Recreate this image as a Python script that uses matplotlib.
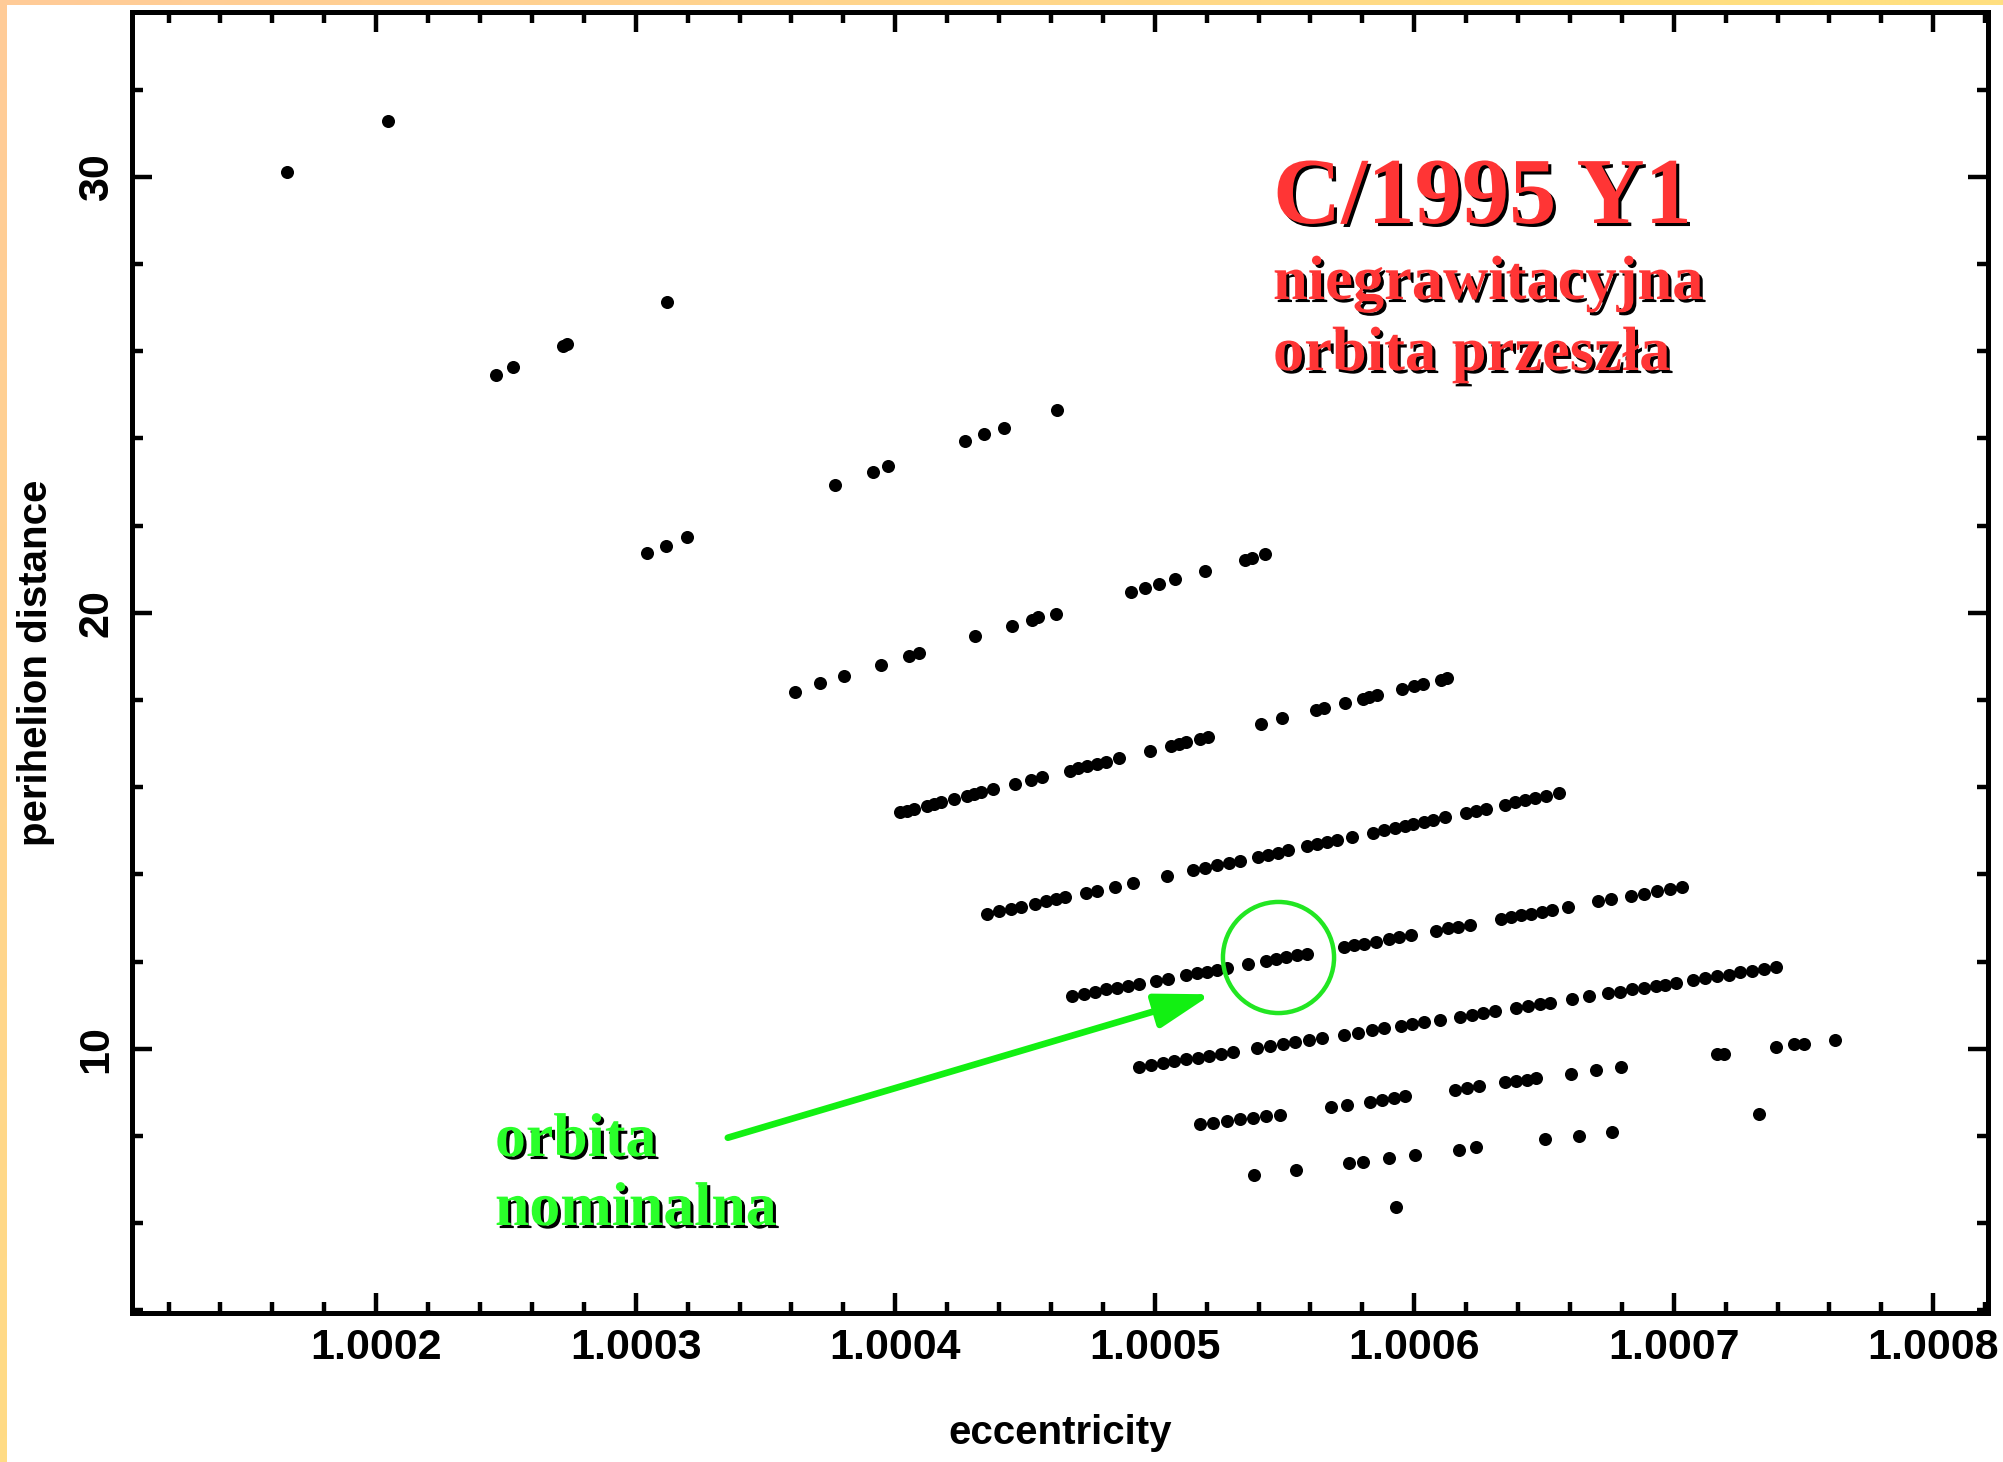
import numpy as np
import matplotlib
matplotlib.use("Agg")
import matplotlib.pyplot as plt
import matplotlib.patheffects as pe
from matplotlib.patches import Rectangle, FancyArrowPatch
from matplotlib.ticker import MultipleLocator

plt.rcParams['font.family'] = ['Liberation Sans', 'DejaVu Sans']

# ---- orbit solutions: eccentricity vs perihelion distance, grouped by band ----
ecc_a = [1.0001657, 1.0002044]
q_a = [30.10, 31.29]

ecc_b = [1.0002461, 1.0002528, 1.0002721, 1.0002737, 1.0003122]
q_b = [25.45, 25.64, 26.13, 26.17, 27.13]

ecc_c = [1.0003045, 1.0003116, 1.0003199, 1.0003769, 1.0003914, 1.0003973,
         1.0004269, 1.0004343, 1.0004418, 1.0004624]
q_c = [21.38, 21.54, 21.73, 22.94, 23.23, 23.36, 23.95, 24.10, 24.24, 24.66]

ecc_d = [1.0003612, 1.0003711, 1.0003802, 1.0003945, 1.0004055, 1.0004092,
         1.0004306, 1.0004449, 1.0004526, 1.0004550, 1.0004620, 1.0004908,
         1.0004963, 1.0005015, 1.0005080, 1.0005193, 1.0005348, 1.0005376,
         1.0005426]
q_d = [18.19, 18.38, 18.54, 18.81, 19.01, 19.08, 19.46, 19.70, 19.84, 19.90,
       19.98, 20.48, 20.57, 20.67, 20.77, 20.96, 21.22, 21.26, 21.34]

ecc_e = [1.0004017, 1.0004046, 1.0004072, 1.0004123, 1.0004149, 1.0004175,
         1.0004227, 1.0004278, 1.0004304, 1.0004330, 1.0004378, 1.0004462,
         1.0004522, 1.0004567, 1.0004674, 1.0004705, 1.0004739, 1.0004777,
         1.0004812, 1.0004863, 1.0004980, 1.0005061, 1.0005092, 1.0005121,
         1.0005173, 1.0005207, 1.0005408, 1.0005491, 1.0005620, 1.0005651,
         1.0005732, 1.0005801, 1.0005827, 1.0005857, 1.0005952, 1.0005999,
         1.0006033, 1.0006102, 1.0006128]
q_e = [15.42, 15.46, 15.50, 15.58, 15.61, 15.65, 15.73, 15.80, 15.84, 15.88,
       15.95, 16.07, 16.16, 16.23, 16.38, 16.43, 16.48, 16.53, 16.58, 16.66,
       16.83, 16.95, 16.99, 17.04, 17.11, 17.16, 17.46, 17.58, 17.77, 17.81,
       17.93, 18.03, 18.07, 18.11, 18.25, 18.32, 18.37, 18.47, 18.51]

ecc_f = [1.0004352, 1.0004399, 1.0004446, 1.0004485, 1.0004540, 1.0004580,
         1.0004619, 1.0004655, 1.0004737, 1.0004776, 1.0004847, 1.0004918,
         1.0005048, 1.0005146, 1.0005193, 1.0005240, 1.0005287, 1.0005327,
         1.0005397, 1.0005437, 1.0005476, 1.0005515, 1.0005586, 1.0005626,
         1.0005665, 1.0005704, 1.0005762, 1.0005841, 1.0005885, 1.0005924,
         1.0005964, 1.0005995, 1.0006039, 1.0006074, 1.0006118, 1.0006199,
         1.0006239, 1.0006278, 1.0006349, 1.0006388, 1.0006428, 1.0006467,
         1.0006506, 1.0006558]
q_f = [13.09, 13.15, 13.21, 13.26, 13.33, 13.38, 13.43, 13.47, 13.57, 13.62,
       13.71, 13.80, 13.96, 14.09, 14.15, 14.21, 14.26, 14.31, 14.40, 14.45,
       14.50, 14.55, 14.64, 14.69, 14.74, 14.79, 14.86, 14.96, 15.02, 15.06,
       15.11, 15.15, 15.21, 15.25, 15.31, 15.41, 15.46, 15.51, 15.60, 15.65,
       15.70, 15.75, 15.79, 15.86]

ecc_g = [1.0004682, 1.0004726, 1.0004768, 1.0004812, 1.0004855, 1.0004897,
         1.0004941, 1.0005004, 1.0005051, 1.0005122, 1.0005162, 1.0005201,
         1.0005240, 1.0005279, 1.0005358, 1.0005429, 1.0005468, 1.0005507,
         1.0005547, 1.0005586, 1.0005728, 1.0005767, 1.0005806, 1.0005854,
         1.0005901, 1.0005940, 1.0005987, 1.0006082, 1.0006129, 1.0006168,
         1.0006215, 1.0006333, 1.0006373, 1.0006412, 1.0006451, 1.0006491,
         1.0006530, 1.0006593, 1.0006710, 1.0006760, 1.0006837, 1.0006886,
         1.0006935, 1.0006984, 1.0007033]
q_g = [11.22, 11.26, 11.31, 11.36, 11.40, 11.45, 11.49, 11.56, 11.61, 11.69,
       11.73, 11.77, 11.81, 11.85, 11.94, 12.01, 12.05, 12.10, 12.14, 12.18,
       12.33, 12.37, 12.41, 12.46, 12.51, 12.56, 12.61, 12.71, 12.76, 12.80,
       12.85, 12.97, 13.02, 13.06, 13.10, 13.14, 13.18, 13.25, 13.38, 13.43,
       13.51, 13.56, 13.62, 13.67, 13.72]

ecc_h = [1.0004939, 1.0004984, 1.0005030, 1.0005075, 1.0005120, 1.0005166,
         1.0005211, 1.0005257, 1.0005302, 1.0005393, 1.0005444, 1.0005493,
         1.0005542, 1.0005593, 1.0005644, 1.0005730, 1.0005784, 1.0005839,
         1.0005884, 1.0005948, 1.0005993, 1.0006039, 1.0006099, 1.0006175,
         1.0006221, 1.0006266, 1.0006312, 1.0006393, 1.0006439, 1.0006484,
         1.0006524, 1.0006608, 1.0006675, 1.0006748, 1.0006794, 1.0006839,
         1.0006885, 1.0006930, 1.0006966, 1.0007008, 1.0007075, 1.0007121,
         1.0007166, 1.0007212, 1.0007257, 1.0007303, 1.0007348, 1.0007394]
q_h = [9.59, 9.63, 9.67, 9.72, 9.76, 9.80, 9.84, 9.89, 9.93, 10.01, 10.06,
       10.10, 10.15, 10.20, 10.24, 10.32, 10.37, 10.43, 10.47, 10.53, 10.57,
       10.61, 10.67, 10.74, 10.78, 10.82, 10.87, 10.94, 10.98, 11.03, 11.06,
       11.14, 11.20, 11.27, 11.31, 11.36, 11.40, 11.44, 11.47, 11.51, 11.57,
       11.62, 11.66, 11.70, 11.75, 11.79, 11.83, 11.87]

ecc_i = [1.0005175, 1.0005226, 1.0005277, 1.0005328, 1.0005379, 1.0005430,
         1.0005481, 1.0005681, 1.0005742, 1.0005830, 1.0005875, 1.0005921,
         1.0005966, 1.0006157, 1.0006203, 1.0006248, 1.0006348, 1.0006393,
         1.0006433, 1.0006470, 1.0006603, 1.0006699, 1.0006797, 1.0007166,
         1.0007194, 1.0007330, 1.0007394, 1.0007463, 1.0007503, 1.0007621]
q_i = [8.27, 8.30, 8.34, 8.38, 8.42, 8.46, 8.49, 8.66, 8.72, 8.79, 8.83, 8.87,
       8.92, 9.06, 9.11, 9.15, 9.23, 9.26, 9.29, 9.32, 9.43, 9.52, 9.59, 9.89,
       9.89, 8.50, 10.04, 10.10, 10.12, 10.21]

ecc_j = [1.0005384, 1.0005543, 1.0005748, 1.0005802, 1.0005902, 1.0005930,
         1.0006003, 1.0006171, 1.0006239, 1.0006502, 1.0006634, 1.0006761]
q_j = [7.11, 7.22, 7.38, 7.41, 7.49, 6.38, 7.57, 7.68, 7.74, 7.93, 8.01, 8.10]

bands = [(ecc_a, q_a), (ecc_b, q_b), (ecc_c, q_c), (ecc_d, q_d), (ecc_e, q_e),
         (ecc_f, q_f), (ecc_g, q_g), (ecc_h, q_h), (ecc_i, q_i), (ecc_j, q_j)]

# nominal solution and pointer
nominal = (1.0005474, 12.11)
pointer_tail = (1.0003355, 7.96)
pointer_head = (1.0005219, 11.25)

x_ticks = [1.0002, 1.0003, 1.0004, 1.0005, 1.0006, 1.0007, 1.0008]
x_tick_labels = ['1.0002', '1.0003', '1.0004', '1.0005', '1.0006', '1.0007', '1.0008']
y_ticks = [10, 20, 30]
y_tick_labels = ['10', '20', '30']

title = 'C/1995 Y1'
subtitle = ['niegrawitacyjna', 'orbita przeszła']
note = ['orbita', 'nominalna']

# ---- figure with a warm gradient frame ----
W, H = 2003, 1462
fig = plt.figure(figsize=(W / 100, H / 100), dpi=100)

bg = fig.add_axes([0, 0, 1, 1], zorder=-10)
yy, xx = np.mgrid[0:H:4, 0:W:4]
t = np.clip((xx + yy) / 1800.0, 0, 1)[..., None]
peach = np.array([255, 203, 152]) / 255.0
yellow = np.array([255, 223, 128]) / 255.0
bg.imshow(peach * (1 - t) + yellow * t, extent=[0, W, H, 0], aspect='auto',
          interpolation='bilinear')
bg.add_patch(Rectangle((7, 5), W, H, facecolor='white', edgecolor='none'))
bg.set_xlim(0, W)
bg.set_ylim(H, 0)
bg.axis('off')

# ---- main scatter panel ----
left, right, top, bottom = 132, 1988, 12, 1313
ax = fig.add_axes([left / W, 1 - bottom / H, (right - left) / W, (bottom - top) / H])
ax.set_facecolor('none')

for e_vals, q_vals in bands:
    ax.plot(e_vals, q_vals, 'o', ls='none', ms=9.4, mew=0, color='black')

ax.set_xlim(1.0001059, 1.0008211)
ax.set_ylim(3.94, 33.78)

ax.set_xticks(x_ticks, x_tick_labels)
ax.set_yticks(y_ticks, y_tick_labels)
ax.xaxis.set_minor_locator(MultipleLocator(0.00002))
ax.yaxis.set_minor_locator(MultipleLocator(2))

ax.tick_params(which='both', direction='in', top=True, right=True,
               width=3.2, color='black')
ax.tick_params(which='major', length=14.5, pad=11, labelsize=31)
ax.tick_params(which='minor', length=8)
ax.tick_params(axis='y', labelrotation=90)
for lab in ax.get_xticklabels() + ax.get_yticklabels():
    lab.set_fontweight('bold')
for lab in ax.get_yticklabels():
    lab.set_va('center')

for sp in ax.spines.values():
    sp.set_linewidth(3.6)

ax.set_xlabel('eccentricity', fontsize=29, fontweight='bold')
ax.set_ylabel('perihelion distance', fontsize=29, fontweight='bold')
ax.xaxis.label.set_va('center')
ax.yaxis.label.set_va('center')
ax.xaxis.set_label_coords(0.5, -0.0922)
ax.yaxis.set_label_coords(-0.0517, 0.5)

# nominal orbit marker and pointer
ax.plot([nominal[0]], [nominal[1]], 'o', ms=80, mfc='none', mec='#22e622',
        mew=3.2, zorder=5)
arrow = FancyArrowPatch(pointer_tail, pointer_head,
                        arrowstyle='-|>,head_length=34,head_width=10.5',
                        mutation_scale=1, lw=4.8, color='#12f012',
                        shrinkA=0, shrinkB=0, zorder=6)
ax.add_patch(arrow)

# ---- headings with drop shadow ----
shadow = [pe.withSimplePatchShadow(offset=(2.2, -2.2), shadow_rgbFace='black', alpha=1.0)]
serif = ['Liberation Serif', 'DejaVu Serif']

def put(text, x, y, size, color):
    fig.text(x / W, 1 - y / H, text, fontsize=size, fontweight='bold',
             family=serif, color=color, ha='left', va='baseline',
             path_effects=shadow)

put(title, 1273, 223, 68, '#ff3535')
put(subtitle[0], 1273, 299, 45, '#ff3535')
put(subtitle[1], 1273, 370, 45, '#ff3535')
put(note[0], 495, 1156, 44.5, '#2aff2a')
put(note[1], 495, 1225, 44.5, '#2aff2a')

fig.savefig('out.png', dpi=100)
